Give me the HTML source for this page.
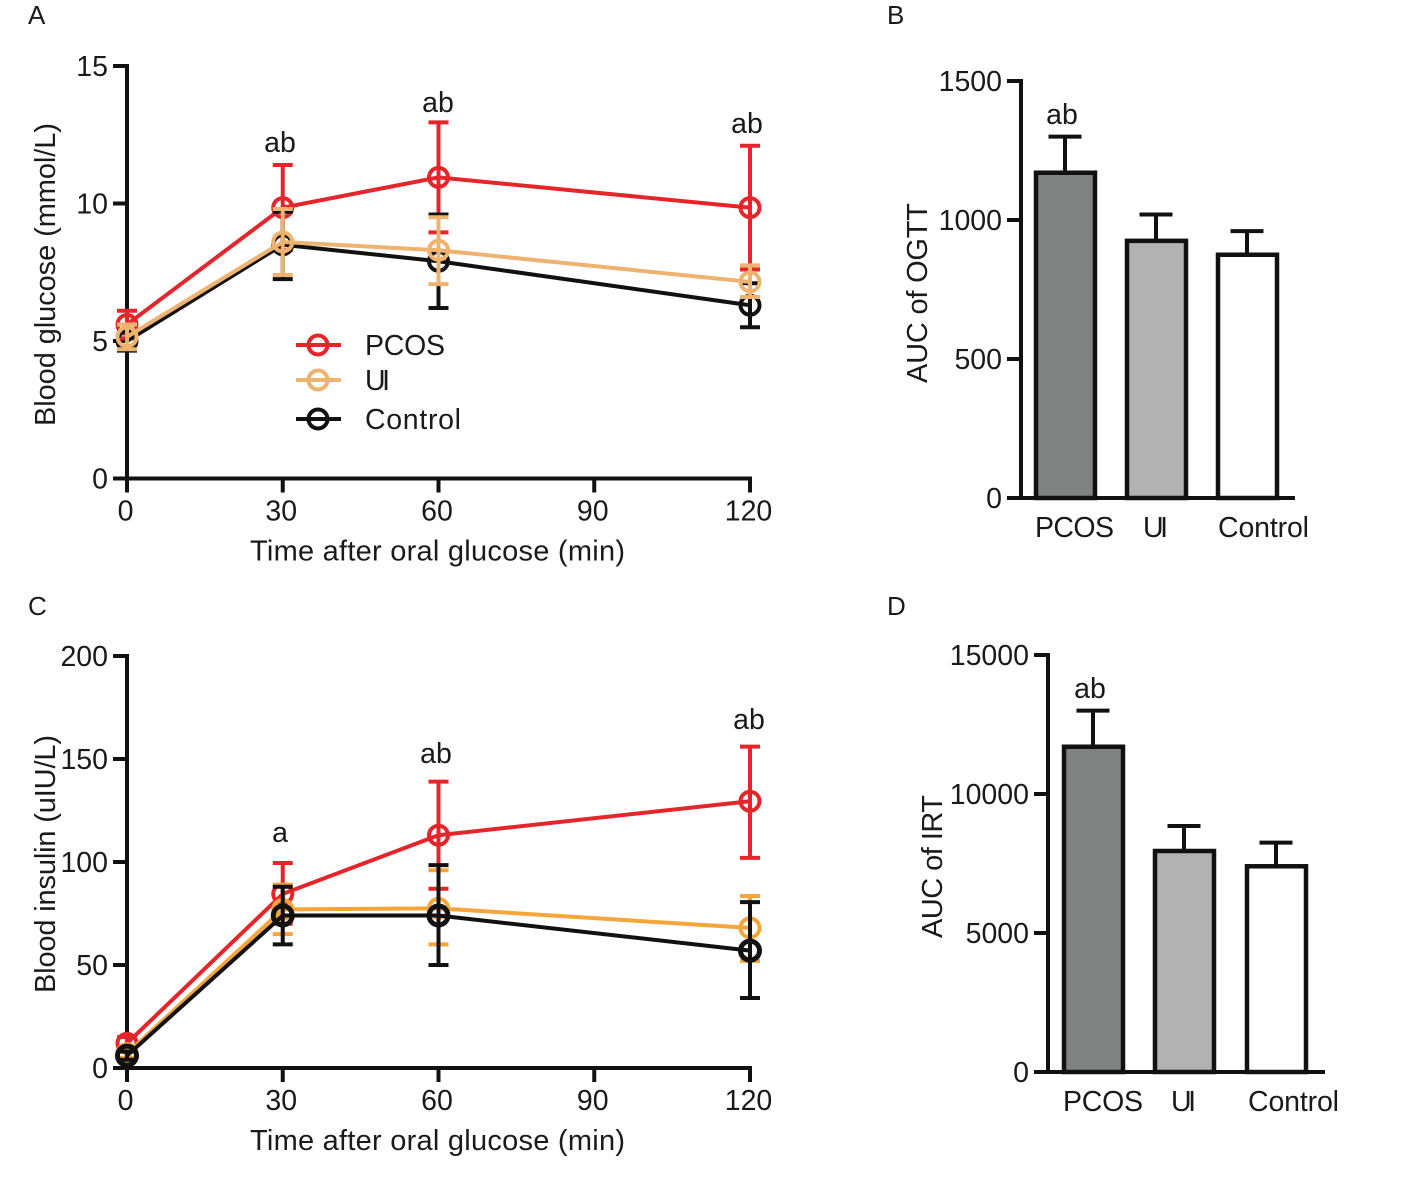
<!DOCTYPE html>
<html>
<head>
<meta charset="utf-8">
<title>Glucose and insulin response charts</title>
<style>
html,body{margin:0;padding:0;background:#fff;}
svg{display:block;}
text{font-family:"Liberation Sans",sans-serif;fill:#1a1a1a;}
</style>
</head>
<body>
<svg id="fig" width="1417" height="1185" viewBox="0 0 1417 1185" xmlns="http://www.w3.org/2000/svg"></svg>
<script>
// Shared line-chart categories
var timeTicks = [0, 30, 60, 90, 120];
var timePoints = [0, 30, 60, 120];
var seriesNames = ['PCOS', 'UI', 'Control'];

// Panel A: blood glucose (mmol/L)
var glucoseTicks = [0, 5, 10, 15];
var glucosePCOS = [5.6, 9.85, 10.95, 9.85];
var glucosePCOSHigh = [6.1, 11.4, 12.95, 12.1];
var glucosePCOSLow = [5.1, 8.3, 8.95, 7.6];
var glucoseUI = [5.15, 8.6, 8.3, 7.15];
var glucoseUIHigh = [5.6, 9.8, 9.5, 7.75];
var glucoseUILow = [4.7, 7.4, 7.07, 6.6];
var glucoseControl = [5.0, 8.5, 7.9, 6.3];
var glucoseControlHigh = [5.35, 9.7, 9.6, 7.1];
var glucoseControlLow = [4.65, 7.25, 6.2, 5.5];

// Panel C: blood insulin (uIU/L)
var insulinTicks = [0, 50, 100, 150, 200];
var insulinPCOS = [12, 84.5, 113, 129.5];
var insulinPCOSHigh = [15, 99.5, 139, 156];
var insulinPCOSLow = [9, 70, 87, 102];
var insulinUI = [7, 77, 77.5, 68];
var insulinUIHigh = [9, 89, 96, 83.5];
var insulinUILow = [5, 65, 60, 52];
var insulinControl = [6, 74, 74, 57];
var insulinControlHigh = [8, 88, 98.5, 80.5];
var insulinControlLow = [4, 60, 50, 34];

// Panel B: AUC of OGTT
var ogttTicks = [0, 500, 1000, 1500];
var ogttValues = [1170, 925, 875];
var ogttHigh = [1300, 1020, 960];

// Panel D: AUC of IRT
var irtTicks = [0, 5000, 10000, 15000];
var irtValues = [11700, 7950, 7400];
var irtHigh = [13000, 8850, 8250];

var RED = '#e5252a', PEACH = '#eeb36f', ORANGE = '#f5a53a', BLACK = '#111111';
var FS = 28.5;
var svg = document.getElementById('fig');

function mk(tag, name, attrs, parent) {
  var el = document.createElementNS('http://www.w3.org/2000/svg', tag);
  
  
  for (var k in attrs) { el.setAttribute(k, attrs[k]); }
  (parent || svg).appendChild(el);
  return el;
}
function line(name, x1, y1, x2, y2, color, w, parent, cap) {
  return mk('line', name, {x1: x1, y1: y1, x2: x2, y2: y2, stroke: color, 'stroke-width': w, 'stroke-linecap': cap || 'butt'}, parent);
}
function text(name, s, x, y, anchor, size, parent, len) {
  var a = {x: x, y: y, 'text-anchor': anchor || 'start', 'font-size': size || FS};
  if (len) { a.textLength = len; a.lengthAdjust = 'spacing'; }
  var t = mk('text', name, a, parent);
  t.textContent = s;
  return t;
}
function vtext(name, s, cx, yBottom, len, parent) {
  var t = mk('text', name, {x: 0, y: 0, 'font-size': 29, transform: 'translate(' + cx + ',' + yBottom + ') rotate(-90)', textLength: len, lengthAdjust: 'spacing'}, parent);
  t.textContent = s;
  return t;
}
function linScale(d0, d1, r0, r1) {
  return function (v) { return r0 + (v - d0) * (r1 - r0) / (d1 - d0); };
}

function linePanel(cfg) {
  var g = mk('g', cfg.name, {});
  var x = linScale(0, 120, 127, 750);
  var y = linScale(0, cfg.yMax, cfg.y0, cfg.yTop);
  line('y-axis', 127, cfg.yTop - 2, 127, cfg.y0 + 2, BLACK, 4, g);
  line('x-axis', 125, cfg.y0, 752, cfg.y0, BLACK, 4, g);
  cfg.yTicks.forEach(function (v) {
    line('y-tick-' + v, 113, y(v), 127, y(v), BLACK, 4, g);
    text('y-tick-label-' + v, String(v), 108, y(v) + 10, 'end', FS, g);
  });
  timeTicks.forEach(function (v) {
    line('x-tick-' + v, x(v), cfg.y0, x(v), cfg.y0 + 14, BLACK, 4, g);
    text('x-tick-label-' + v, String(v), x(v) - 1.5, cfg.y0 + 42, 'middle', FS, g);
  });
  text('x-axis-title', 'Time after oral glucose (min)', 250, cfg.y0 + 82, 'start', 29, g, 375);
  vtext('y-axis-title', cfg.yTitle, 55, cfg.titleBottom, cfg.titleLen, g);

  cfg.series.forEach(function (s) {
    var sg = mk('g', 'series-' + s.label.toLowerCase(), {}, g);
    var pts = s.values.map(function (v, i) { return x(timePoints[i]) + ',' + y(v); }).join(' ');
    mk('polyline', 'line-' + s.label.toLowerCase(), {points: pts, fill: 'none', stroke: s.color, 'stroke-width': 4}, sg);
    s.values.forEach(function (v, i) {
      var px = x(timePoints[i]);
      line('error-bar', px, y(s.high[i]), px, y(s.low[i]), s.color, 4, sg);
      line('error-cap-high', px - 10, y(s.high[i]), px + 10, y(s.high[i]), s.color, 4, sg);
      line('error-cap-low', px - 10, y(s.low[i]), px + 10, y(s.low[i]), s.color, 4, sg);
      mk('circle', 'point', {cx: px, cy: y(v), r: 9.5, fill: 'none', stroke: s.color, 'stroke-width': s.mw || 4}, sg);
    });
  });
  cfg.notes.forEach(function (n) {
    text('significance-label', n[0], n[1], n[2], 'middle', FS, g);
  });
  return g;
}

function barPanel(cfg) {
  var g = mk('g', cfg.name, {});
  var y = linScale(0, cfg.yMax, cfg.y0, cfg.yTop);
  var fills = ['#808281', '#b2b2b2', '#ffffff'];
  line('y-axis', cfg.ax, cfg.yTop - 2, cfg.ax, cfg.y0 + 2, BLACK, 4, g);
  line('x-axis', cfg.ax - 14, cfg.y0, cfg.axEnd, cfg.y0, BLACK, 4, g);
  cfg.yTicks.forEach(function (v) {
    line('y-tick-' + v, cfg.ax - 14, y(v), cfg.ax, y(v), BLACK, 4, g);
    text('y-tick-label-' + v, String(v), cfg.ax - 19, y(v) + 10, 'end', FS, g);
  });
  cfg.values.forEach(function (v, i) {
    var bx = cfg.barX[i];
    var label = seriesNames[i];
    line('error-bar-' + label.toLowerCase(), bx + 29, y(cfg.high[i]), bx + 29, y(v), BLACK, 4, g);
    line('error-cap-' + label.toLowerCase(), bx + 12.5, y(cfg.high[i]), bx + 45.5, y(cfg.high[i]), BLACK, 4, g);
    mk('rect', 'bar-' + label.toLowerCase(), {x: bx, y: y(v), width: 59, height: cfg.y0 - y(v), fill: fills[i], stroke: BLACK, 'stroke-width': 4.5}, g);
    text('category-label-' + label.toLowerCase(), label, cfg.labelX[i], cfg.y0 + 39, 'start', FS, g, cfg.labelLen[i]);
  });
  vtext('y-axis-title', cfg.yTitle, cfg.titleX, cfg.titleBottom, cfg.titleLen, g);
  text('significance-label', 'ab', cfg.note[0], cfg.note[1], 'middle', FS, g);
  return g;
}

linePanel({
  name: 'panel-a-glucose-chart', yMax: 15, y0: 478.5, yTop: 66,
  yTicks: glucoseTicks, yTitle: 'Blood glucose (mmol/L)', titleBottom: 426, titleLen: 303,
  series: [
    {label: seriesNames[0], color: RED, values: glucosePCOS, high: glucosePCOSHigh, low: glucosePCOSLow},
    {label: seriesNames[2], color: BLACK, values: glucoseControl, high: glucoseControlHigh, low: glucoseControlLow},
    {label: seriesNames[1], color: PEACH, values: glucoseUI, high: glucoseUIHigh, low: glucoseUILow}
  ],
  notes: [['ab', 280, 152], ['ab', 438, 112], ['ab', 747, 133]]
});

linePanel({
  name: 'panel-c-insulin-chart', yMax: 200, y0: 1068, yTop: 656,
  yTicks: insulinTicks, yTitle: 'Blood insulin (uIU/L)', titleBottom: 993, titleLen: 258,
  series: [
    {label: seriesNames[0], color: RED, values: insulinPCOS, high: insulinPCOSHigh, low: insulinPCOSLow},
    {label: seriesNames[1], color: ORANGE, values: insulinUI, high: insulinUIHigh, low: insulinUILow},
    {label: seriesNames[2], color: BLACK, mw: 5, values: insulinControl, high: insulinControlHigh, low: insulinControlLow}
  ],
  notes: [['a', 280, 842], ['ab', 436, 763], ['ab', 749, 729]]
});

barPanel({
  name: 'panel-b-ogtt-chart', yMax: 1500, y0: 498, yTop: 81, ax: 1021, axEnd: 1295,
  yTicks: ogttTicks, values: ogttValues, high: ogttHigh,
  barX: [1036, 1127, 1218], labelX: [1035, 1143, 1218], labelLen: [79, 25, 91],
  yTitle: 'AUC of OGTT', titleX: 927, titleBottom: 383, titleLen: 180, note: [1062, 124]
});

barPanel({
  name: 'panel-d-irt-chart', yMax: 15000, y0: 1072, yTop: 655, ax: 1048, axEnd: 1325,
  yTicks: irtTicks, values: irtValues, high: irtHigh,
  barX: [1064, 1155, 1247], labelX: [1063, 1171, 1248], labelLen: [80, 25, 91],
  yTitle: 'AUC of IRT', titleX: 942, titleBottom: 938, titleLen: 143, note: [1090, 698]
});

// Legend in panel A
var legend = mk('g', 'legend', {});
var legendColors = [RED, PEACH, BLACK];
var legendY = [345, 380, 419];
var legendLen = [80, 25, 96];
seriesNames.forEach(function (name, i) {
  var key = name.toLowerCase();
  line('legend-line-' + key, 296, legendY[i], 341, legendY[i], legendColors[i], 4, legend);
  mk('circle', 'legend-marker-' + key, {cx: 318, cy: legendY[i], r: 9.5, fill: 'none', stroke: legendColors[i], 'stroke-width': 4}, legend);
  text('legend-label-' + key, name, 365, legendY[i] + 10, 'start', FS, legend, legendLen[i]);
});

// Panel letters
text('panel-label-a', 'A', 28, 24, 'start', 26);
text('panel-label-b', 'B', 887, 24, 'start', 26);
text('panel-label-c', 'C', 28, 615, 'start', 26);
text('panel-label-d', 'D', 887, 615, 'start', 26);
</script>
</body>
</html>
